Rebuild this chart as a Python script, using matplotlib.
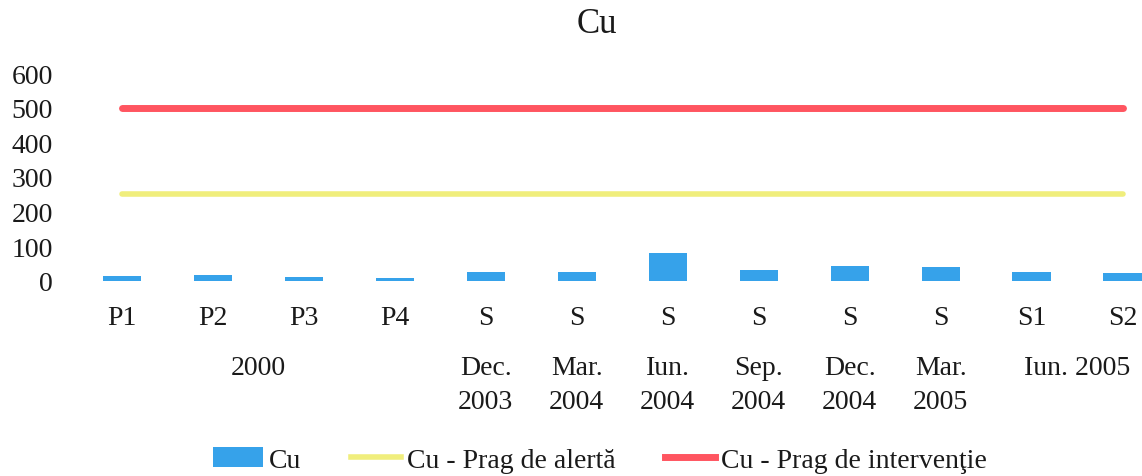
import matplotlib.pyplot as plt
from matplotlib.patches import Patch
from matplotlib.lines import Line2D
from matplotlib.transforms import blended_transform_factory

plt.rcParams["font.family"] = ["Liberation Serif", "DejaVu Serif"]

CATEGORIES = ["P1", "P2", "P3", "P4", "S", "S", "S", "S", "S", "S", "S1", "S2"]
CU = [15, 17, 12, 8, 27, 27, 81, 31, 42, 39, 26, 24]
PRAG_ALERTA = 250
PRAG_INTERVENTIE = 500

# second level labels: (text, first category index, last category index)
GROUPS = [
    ("2000", 0, 3),
    ("Dec.\n2003", 4, 4),
    ("Mar.\n2004", 5, 5),
    ("Iun.\n2004", 6, 6),
    ("Sep.\n2004", 7, 7),
    ("Dec.\n2004", 8, 8),
    ("Mar.\n2005", 9, 9),
    ("Iun. 2005", 10, 11),
]

BLUE = "#36A2EA"
YELLOW = "#F0EE7C"
RED = "#FF5560"
TXT = "#1a1a1a"

W, H = 1142, 477
fig = plt.figure(figsize=(W / 100, H / 100), dpi=100)
# axes runs past the right edge, as in the reference
ax = fig.add_axes([76.5 / W, 1 - 282 / H, (1168 - 76.5) / W, (282 - 74) / H])

x = list(range(len(CATEGORIES)))
ax.bar(x, CU, width=0.42, color=BLUE, zorder=2)
ax.plot(x, [PRAG_ALERTA] * len(x), color=YELLOW, lw=4, solid_capstyle="round", zorder=3)
ax.plot(x, [PRAG_INTERVENTIE] * len(x), color=RED, lw=5, solid_capstyle="round", zorder=3)

ax.set_xlim(-0.5, len(x) - 0.5)
ax.set_ylim(0, 600)
ax.set_yticks(range(0, 601, 100))
ax.set_xticks(x)
ax.set_xticklabels(CATEGORIES)
ax.tick_params(axis="x", length=0, pad=17, labelsize=20, colors=TXT)
ax.tick_params(axis="y", length=0, pad=17, labelsize=20, colors=TXT)
for s in ax.spines.values():
    s.set_visible(False)

tr = blended_transform_factory(ax.transData, fig.transFigure)
baselines = [1 - 375 / H, 1 - 409 / H]
for text, i0, i1 in GROUPS:
    xc = (i0 + i1) / 2
    for k, line in enumerate(text.split("\n")):
        ax.text(xc, baselines[k], line, transform=tr, ha="center", va="baseline",
                fontsize=20, color=TXT, clip_on=False)

fig.text(597 / W, 1 - 33 / H, "Cu", ha="center", va="baseline", fontsize=25, color=TXT)

handles = [
    Patch(facecolor=BLUE),
    Line2D([], [], color=YELLOW, lw=4),
    Line2D([], [], color=RED, lw=5),
]
labels = ["Cu", "Cu - Prag de alertă", "Cu - Prag de intervenţie"]
fig.legend(handles, labels, loc="center", bbox_to_anchor=(600 / W, 1 - 461 / H), ncol=3,
           frameon=False, fontsize=20, handlelength=1.8, handletextpad=0.2,
           columnspacing=1.8, labelcolor=TXT)

fig.savefig("out.png", dpi=100)
